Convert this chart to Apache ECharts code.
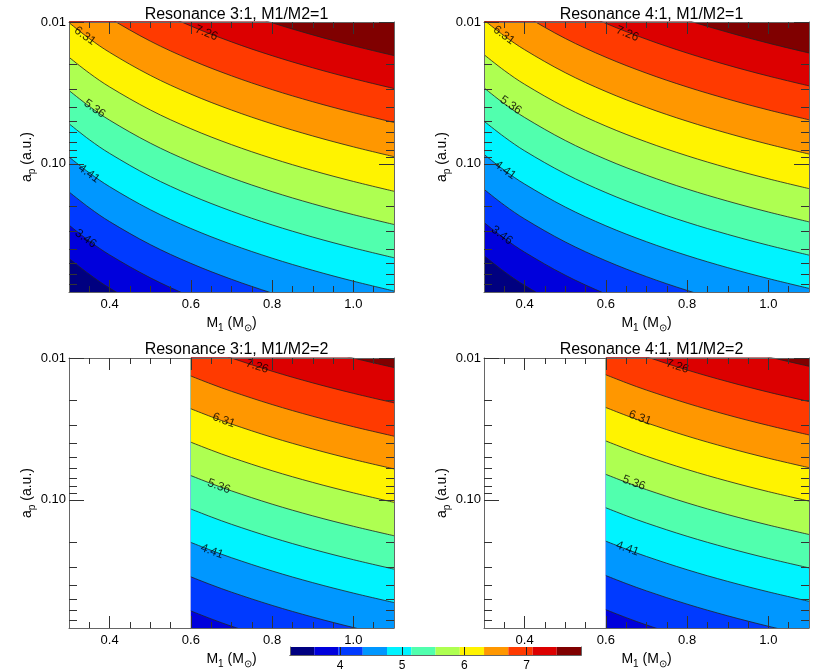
<!DOCTYPE html>
<html><head><meta charset="utf-8">
<script src="https://cdn.jsdelivr.net/npm/echarts@6/dist/echarts.min.js"></script>
<style>html,body{margin:0;padding:0;background:#fff}#chart{width:830px;height:672px}</style>
</head><body><div id="chart"></div>
<script>
// ---------------- data ----------------
const panelTitles = ['Resonance 3:1, M1/M2=1', 'Resonance 4:1, M1/M2=1', 'Resonance 3:1, M1/M2=2', 'Resonance 4:1, M1/M2=2'];
const m1Range = [0.3, 1.1];
const apRange = [0.01, 0.8];
const xMajorTicks = [0.4, 0.6, 0.8, 1.0];
const xMinorTicks = [0.35, 0.45, 0.5, 0.55, 0.65, 0.7, 0.75, 0.85, 0.9, 0.95, 1.05];
const yMajorTicks = [0.01, 0.1];
const yMinorTicks = [0.02, 0.03, 0.04, 0.05, 0.06, 0.07, 0.08, 0.09, 0.2, 0.3, 0.4, 0.5, 0.6, 0.7];
const levels = [2.985, 3.46, 3.935, 4.41, 4.885, 5.36, 5.835, 6.31, 6.785, 7.26, 7.735];
const bandColors = ['#000080', '#0000dc', '#003aff', '#0097ff', '#00f3ff', '#51ffae', '#aeff51', '#fff300', '#ff9700', '#ff3a00', '#dc0000', '#800000'];
const colorbarEdges = [3.196, 3.586, 3.976, 4.366, 4.756, 5.146, 5.536, 5.926, 6.316, 6.706, 7.096, 7.485, 7.875];
const colorbarTicks = [4, 5, 6, 7];

const m1GridTop = [0.3, 0.35, 0.4, 0.5, 0.6, 0.7, 0.8, 0.9, 1.0, 1.1];
const m1GridBottom = [0.6, 0.65, 0.7, 0.8, 0.9, 1.0, 1.1];
const domainTop = [0.3, 1.1];
const domainBottom = [0.6, 1.1];

// contour boundaries (a_p in a.u. along the M1 grid), one row per level
const apTL = [
  [0.464, 0.600, 0.751, 1.090, 1.480, 1.916, 2.396, 2.917, 3.480, 4.083],
  [0.270, 0.350, 0.438, 0.635, 0.862, 1.116, 1.396, 1.700, 2.028, 2.379],
  [0.1576, 0.2039, 0.2552, 0.3705, 0.5027, 0.6509, 0.8142, 0.9913, 1.1825, 1.3874],
  [0.0894, 0.1157, 0.1448, 0.2103, 0.2853, 0.3694, 0.4621, 0.5626, 0.6711, 0.7873],
  [0.0521, 0.0675, 0.0844, 0.1226, 0.1663, 0.2153, 0.2694, 0.3280, 0.3912, 0.4590],
  [0.0304, 0.0393, 0.0492, 0.0714, 0.0969, 0.1255, 0.1570, 0.1912, 0.2280, 0.2675],
  [0.01772, 0.02293, 0.02869, 0.04166, 0.05653, 0.07318, 0.09154, 0.1115, 0.1330, 0.1560],
  [0.01011, 0.01308, 0.01637, 0.02377, 0.03225, 0.04175, 0.05223, 0.06359, 0.07586, 0.0890],
  [0.0058, 0.0075, 0.00939, 0.01363, 0.0185, 0.02395, 0.02996, 0.03648, 0.04351, 0.05105],
  [0.00334, 0.00433, 0.00541, 0.00786, 0.01067, 0.01381, 0.01728, 0.02103, 0.02509, 0.02944],
  [0.00196, 0.00254, 0.00317, 0.00461, 0.00625, 0.00809, 0.01013, 0.01233, 0.01471, 0.01725]
];
const apTR = [
  [0.444, 0.575, 0.719, 1.045, 1.417, 1.835, 2.295, 2.794, 3.334, 3.912],
  [0.259, 0.335, 0.419, 0.609, 0.826, 1.069, 1.338, 1.629, 1.943, 2.280],
  [0.1510, 0.1954, 0.2444, 0.3550, 0.4816, 0.6236, 0.7800, 0.9497, 1.1328, 1.3291],
  [0.0857, 0.1109, 0.1387, 0.2014, 0.2733, 0.3539, 0.4426, 0.5390, 0.6429, 0.7543],
  [0.0500, 0.0646, 0.0809, 0.1174, 0.1593, 0.2063, 0.2581, 0.3142, 0.3748, 0.4397],
  [0.0291, 0.0377, 0.0471, 0.0684, 0.0929, 0.1202, 0.1504, 0.1831, 0.2184, 0.2563],
  [0.01698, 0.02197, 0.02749, 0.03991, 0.05416, 0.07011, 0.08770, 0.1068, 0.1274, 0.1494],
  [0.00969, 0.01253, 0.01568, 0.02277, 0.03090, 0.04000, 0.05003, 0.06092, 0.07267, 0.08526],
  [0.00556, 0.00719, 0.00899, 0.01306, 0.01772, 0.02294, 0.02870, 0.03494, 0.04168, 0.04891],
  [0.00320, 0.00415, 0.00519, 0.00753, 0.01022, 0.01323, 0.01655, 0.02015, 0.02404, 0.02820],
  [0.00188, 0.00243, 0.00304, 0.00441, 0.00599, 0.00776, 0.00970, 0.01181, 0.01409, 0.01653]
];
const apBL = [
  [1.042, 1.185, 1.336, 1.656, 2.001, 2.371, 2.765],
  [0.6066, 0.6899, 0.7775, 0.9639, 1.1651, 1.3804, 1.6096],
  [0.3488, 0.3967, 0.4471, 0.5542, 0.6699, 0.7938, 0.9255],
  [0.1995, 0.2269, 0.2557, 0.3170, 0.3832, 0.4540, 0.5294],
  [0.1160, 0.1319, 0.1487, 0.1843, 0.2228, 0.2640, 0.3078],
  [0.06745, 0.07672, 0.08645, 0.1072, 0.1296, 0.1535, 0.1790],
  [0.03922, 0.04461, 0.05027, 0.06232, 0.07533, 0.08925, 0.1041],
  [0.0228, 0.02593, 0.02922, 0.03623, 0.04379, 0.05189, 0.0605],
  [0.0134, 0.01524, 0.01718, 0.02129, 0.02574, 0.03049, 0.03556],
  [0.0078, 0.00887, 0.01000, 0.01239, 0.01498, 0.01775, 0.0207],
  [0.0044, 0.00500, 0.00564, 0.00699, 0.00845, 0.01001, 0.01168]
];
const apBR = [
  [1.021, 1.161, 1.309, 1.623, 1.961, 2.324, 2.710],
  [0.5945, 0.6762, 0.7619, 0.9446, 1.1418, 1.3528, 1.5774],
  [0.3418, 0.3888, 0.4381, 0.5432, 0.6565, 0.7779, 0.9070],
  [0.1955, 0.2224, 0.2506, 0.3107, 0.3755, 0.4449, 0.5188],
  [0.1137, 0.1293, 0.1457, 0.1806, 0.2183, 0.2587, 0.3016],
  [0.0661, 0.07518, 0.08472, 0.1050, 0.1270, 0.1504, 0.1754],
  [0.03844, 0.04372, 0.04926, 0.06107, 0.07382, 0.08747, 0.1020],
  [0.02234, 0.02541, 0.02864, 0.03551, 0.04291, 0.05085, 0.05929],
  [0.01313, 0.01494, 0.01684, 0.02086, 0.02522, 0.02988, 0.03485],
  [0.00764, 0.00870, 0.00980, 0.01215, 0.01468, 0.01740, 0.02028],
  [0.00431, 0.00491, 0.00553, 0.00685, 0.00828, 0.00981, 0.01144]
];
// contour label anchors: [M1, a_p, level index]
const labelsTL = [[0.341, 0.3366, 1], [0.349, 0.1172, 3], [0.363, 0.0408, 5], [0.339, 0.01255, 7], [0.638, 0.01195, 9]];
const labelsTR = [[0.344, 0.3186, 1], [0.352, 0.1109, 3], [0.366, 0.0386, 5], [0.349, 0.01241, 7], [0.653, 0.01209, 9]];
const labelsBL = [[0.652, 0.2306, 3], [0.669, 0.0803, 5], [0.681, 0.02753, 7], [0.763, 0.01146, 9]];
const labelsBR = [[0.653, 0.2208, 3], [0.669, 0.0760, 5], [0.684, 0.02648, 7], [0.776, 0.01146, 9]];

// ---------------- styles / layout ----------------
const FONT = 'Liberation Sans';
const frameColor = '#666';
const tickColor = '#333';
const anglesTop = [-36, -36, -35, -36, -22];
const anglesBottom = [-20, -20, -20, -18];
const grids = [
  {left: 69, top: 22, width: 325, height: 270},
  {left: 484, top: 22, width: 325, height: 270},
  {left: 69, top: 358, width: 325, height: 270},
  {left: 484, top: 358, width: 325, height: 270},
  {left: 290, top: 647, width: 291, height: 8}
];
const titleTops = [2, 2, 337, 337];

const panels = [
  {m1: m1GridTop, ap: apTL, domain: domainTop, labels: labelsTL, angles: anglesTop},
  {m1: m1GridTop, ap: apTR, domain: domainTop, labels: labelsTR, angles: anglesTop},
  {m1: m1GridBottom, ap: apBL, domain: domainBottom, labels: labelsBL, angles: anglesBottom},
  {m1: m1GridBottom, ap: apBR, domain: domainBottom, labels: labelsBR, angles: anglesBottom}
];

const xAxes = [], yAxes = [], series = [];
const nameRich = {s: {fontSize: 10, fontFamily: FONT, color: '#000', verticalAlign: 'bottom', padding: [9, 0, 0, 0]}};

panels.forEach((p, g) => {
  const xb = {gridIndex: g, type: 'value', min: m1Range[0], max: m1Range[1], z: 5, splitLine: {show: false}};
  xAxes.push(
    Object.assign({}, xb, {position: 'bottom',
      axisLine: {show: true, lineStyle: {color: frameColor, width: 1}},
      axisTick: {show: true, inside: true, length: 12, customValues: xMajorTicks, lineStyle: {color: tickColor}},
      axisLabel: {show: true, customValues: xMajorTicks, formatter: v => v.toFixed(1), margin: 6, fontSize: 13, color: '#000', fontFamily: FONT},
      name: 'M{s|1} (M{s|\u2299})', nameLocation: 'middle', nameGap: 22,
      nameTextStyle: {fontSize: 14, color: '#000', fontFamily: FONT, verticalAlign: 'top', rich: nameRich}}),
    Object.assign({}, xb, {position: 'bottom', axisLine: {show: false},
      axisTick: {show: true, inside: true, length: 6, customValues: xMinorTicks, lineStyle: {color: tickColor}},
      axisLabel: {show: false}}),
    Object.assign({}, xb, {position: 'top', axisLine: {show: true, lineStyle: {color: frameColor, width: 1}},
      axisTick: {show: true, inside: true, length: 12, customValues: xMajorTicks, lineStyle: {color: tickColor}},
      axisLabel: {show: false}}),
    Object.assign({}, xb, {position: 'top', axisLine: {show: false},
      axisTick: {show: true, inside: true, length: 6, customValues: xMinorTicks, lineStyle: {color: tickColor}},
      axisLabel: {show: false}})
  );
  const yb = {gridIndex: g, type: 'log', logBase: 10, min: apRange[0], max: apRange[1], inverse: true, z: 5, splitLine: {show: false}};
  yAxes.push(
    Object.assign({}, yb, {position: 'left',
      axisLine: {show: true, lineStyle: {color: frameColor, width: 1}},
      axisTick: {show: true, inside: true, length: 15, customValues: yMajorTicks, lineStyle: {color: tickColor}},
      axisLabel: {show: true, customValues: yMajorTicks, formatter: v => Number(v).toFixed(2), margin: 3, fontSize: 13, color: '#000', fontFamily: FONT},
      name: 'a{s|p} (a.u.)', nameLocation: 'middle', nameGap: 31, nameRotate: 90,
      nameTextStyle: {fontSize: 14, color: '#000', fontFamily: FONT, rich: nameRich}}),
    Object.assign({}, yb, {position: 'left', axisLine: {show: false},
      axisTick: {show: true, inside: true, length: 8, customValues: yMinorTicks, lineStyle: {color: tickColor}},
      axisLabel: {show: false}}),
    Object.assign({}, yb, {position: 'right', axisLine: {show: true, lineStyle: {color: frameColor, width: 1}},
      axisTick: {show: true, inside: true, length: 15, customValues: yMajorTicks, lineStyle: {color: tickColor}},
      axisLabel: {show: false}}),
    Object.assign({}, yb, {position: 'right', axisLine: {show: false},
      axisTick: {show: true, inside: true, length: 8, customValues: yMinorTicks, lineStyle: {color: tickColor}},
      axisLabel: {show: false}})
  );
  const xi = g * 4, yi = g * 4;
  // base (lowest band) over the computed domain
  series.push({
    type: 'custom', xAxisIndex: xi, yAxisIndex: yi, silent: true, z: 1, clip: true,
    data: [[p.domain[0], apRange[0], p.domain[1], apRange[1]]],
    renderItem: (params, api) => {
      const a = api.coord([api.value(0), api.value(1)]);
      const b = api.coord([api.value(2), api.value(3)]);
      return {type: 'rect', shape: {x: a[0], y: a[1], width: b[0] - a[0], height: b[1] - a[1]}, style: {fill: bandColors[0]}};
    }
  });
  // contour boundaries, each filling toward small a_p with the band above it
  p.ap.forEach((row, k) => {
    series.push({
      type: 'line', xAxisIndex: xi, yAxisIndex: yi, silent: true, z: 2, clip: true,
      smooth: 0.35, symbol: 'none',
      data: p.m1.map((m, i) => [m, row[i]]),
      lineStyle: {color: '#222', width: 0.8},
      areaStyle: {origin: 'start', color: bandColors[k + 1], opacity: 1}
    });
  });
  // contour labels
  series.push({
    type: 'scatter', xAxisIndex: xi, yAxisIndex: yi, silent: true, z: 3,
    symbolSize: 1, itemStyle: {color: 'rgba(0,0,0,0)'},
    data: p.labels.map((l, i) => ({value: l, label: {rotate: p.angles[i]}})),
    label: {show: true, position: 'inside', fontSize: 12, color: '#000', fontFamily: FONT,
      formatter: prm => levels[prm.value[2]].toFixed(2)}
  });
});

// colorbar
const cg = 4;
xAxes.push(
  {gridIndex: cg, type: 'value', min: colorbarEdges[0], max: colorbarEdges[colorbarEdges.length - 1], position: 'bottom', z: 5,
    splitLine: {show: false},
    axisLine: {show: true, lineStyle: {color: frameColor, width: 1}},
    axisTick: {show: true, inside: true, length: 8, customValues: colorbarTicks, lineStyle: {color: '#222'}},
    axisLabel: {show: true, customValues: colorbarTicks, margin: 5, fontSize: 12, color: '#000', fontFamily: FONT}},
  {gridIndex: cg, type: 'value', min: colorbarEdges[0], max: colorbarEdges[colorbarEdges.length - 1], position: 'top', z: 5,
    splitLine: {show: false}, axisLine: {show: true, lineStyle: {color: frameColor, width: 1}},
    axisTick: {show: false}, axisLabel: {show: false}}
);
yAxes.push(
  {gridIndex: cg, type: 'value', min: 0, max: 1, position: 'left', z: 5, splitLine: {show: false},
    axisLine: {show: true, lineStyle: {color: frameColor, width: 1}}, axisTick: {show: false}, axisLabel: {show: false}},
  {gridIndex: cg, type: 'value', min: 0, max: 1, position: 'right', z: 5, splitLine: {show: false},
    axisLine: {show: true, lineStyle: {color: frameColor, width: 1}}, axisTick: {show: false}, axisLabel: {show: false}}
);
series.push({
  type: 'custom', xAxisIndex: 16, yAxisIndex: 16, silent: true, z: 1,
  data: colorbarEdges.slice(0, -1).map((e, i) => [e, 0, colorbarEdges[i + 1], 1, i]),
  renderItem: (params, api) => {
    const a = api.coord([api.value(0), api.value(1)]);
    const b = api.coord([api.value(2), api.value(3)]);
    return {type: 'rect', shape: {x: a[0], y: b[1], width: b[0] - a[0], height: a[1] - b[1]}, style: {fill: bandColors[api.value(4)]}};
  }
});

const chart = echarts.init(document.getElementById('chart'), null, {renderer: 'canvas'});
chart.setOption({
  animation: false,
  backgroundColor: '#fff',
  textStyle: {fontFamily: FONT},
  title: panelTitles.map((t, i) => ({
    text: t, left: grids[i].left + grids[i].width / 2, top: titleTops[i], textAlign: 'center',
    textStyle: {fontSize: 16, fontWeight: 'normal', color: '#000', fontFamily: FONT}
  })),
  grid: grids,
  xAxis: xAxes,
  yAxis: yAxes,
  series: series
});
</script>
</body></html>
